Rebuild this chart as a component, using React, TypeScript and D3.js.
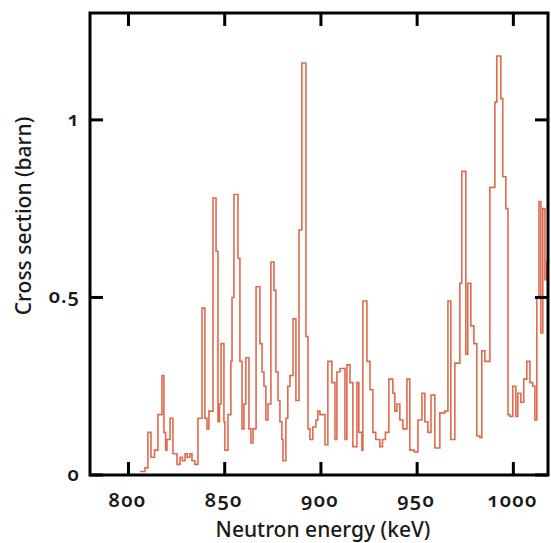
import React from "react";
import * as d3 from "d3";

// Step-function cross section: each value holds from its energy to the next one (keV, barn)
const energies = [
  806.0, 808.6, 810.1, 811.7, 813.5, 815.3, 817.4, 818.4, 819.3, 820.0,
  821.6, 823.1, 825.2, 826.8, 828.0, 829.4, 830.5, 831.9, 833.0, 834.5,
  836.1, 838.2, 839.7, 840.8, 841.8, 843.9, 845.5, 846.5, 847.3, 848.1,
  849.6, 850.1, 851.7, 853.2, 853.8, 854.8, 856.9, 857.9, 859.0, 860.0,
  861.0, 862.6, 863.6, 864.7, 866.3, 868.3, 869.4, 870.4, 871.4, 872.5,
  874.0, 875.6, 876.6, 877.7, 878.7, 879.7, 880.3, 881.8, 882.8, 883.9,
  885.5, 887.0, 888.6, 890.1, 892.2, 893.3, 894.3, 895.8, 897.4, 898.4,
  899.5, 902.1, 903.6, 905.7, 907.3, 908.3, 909.9, 912.5, 913.5, 915.1,
  916.6, 918.7, 919.7, 921.3, 921.8, 923.9, 925.5, 927.0, 928.5, 930.6,
  932.0, 933.5, 935.3, 937.4, 938.4, 939.5, 941.0, 942.6, 944.7, 946.2,
  948.5, 950.4, 952.5, 954.0, 955.6, 957.2, 959.2, 961.8, 964.4, 966.0,
  967.5, 969.6, 972.2, 973.2, 975.3, 976.3, 977.9, 979.5, 981.0, 982.6,
  983.6, 985.2, 987.8, 990.4, 991.4, 993.5, 994.5, 996.1, 997.2, 998.2,
  999.7, 1001.3, 1002.3, 1003.9, 1005.4, 1007.0, 1008.6, 1010.1, 1011.2, 1012.2,
  1013.3, 1014.3, 1015.3, 1016.4, 1017.4,
];
const crossSection = [
  0.01, 0.02, 0.12, 0.05, 0.07, 0.17, 0.28, 0.12, 0.07, 0.10,
  0.16, 0.06, 0.03, 0.05, 0.04, 0.06, 0.05, 0.06, 0.04, 0.03,
  0.16, 0.47, 0.16, 0.13, 0.18, 0.78, 0.63, 0.15, 0.20, 0.37,
  0.15, 0.07, 0.17, 0.32, 0.50, 0.79, 0.61, 0.32, 0.13, 0.20,
  0.33, 0.13, 0.09, 0.13, 0.53, 0.37, 0.29, 0.25, 0.155, 0.20,
  0.60, 0.52, 0.29, 0.21, 0.15, 0.10, 0.04, 0.16, 0.25, 0.28,
  0.44, 0.21, 0.69, 1.16, 0.39, 0.13, 0.10, 0.135, 0.155, 0.18,
  0.17, 0.085, 0.32, 0.26, 0.10, 0.29, 0.30, 0.10, 0.31, 0.26,
  0.08, 0.26, 0.12, 0.07, 0.49, 0.32, 0.24, 0.12, 0.10, 0.08,
  0.10, 0.12, 0.27, 0.23, 0.18, 0.20, 0.155, 0.13, 0.27, 0.07,
  0.065, 0.155, 0.23, 0.15, 0.12, 0.225, 0.076, 0.175, 0.18, 0.49,
  0.10, 0.315, 0.54, 0.855, 0.34, 0.54, 0.42, 0.37, 0.11, 0.105,
  0.35, 0.32, 0.81, 1.05, 1.18, 1.06, 0.84, 0.75, 0.17, 0.165,
  0.25, 0.165, 0.23, 0.205, 0.27, 0.32, 0.26, 0.25, 0.155, 0.50,
  0.77, 0.40, 0.75, 0.55, 0.60,
];

const xTicks = [800, 850, 900, 950, 1000];
const yTicks = [0, 0.5, 1];
const yTickLabels = ["0", "0.5", "1"];
const xDomain = [780, 1018];
const yDomain = [0, 1.301];

const W = 551;
const H = 543;
const left = 90;
const right = 548;
const top = 13;
const bottom = 475;
const FONT = "'Noto Sans', 'Open Sans', sans-serif";
const LINE = "#e06a4e";
const TEXT = "#1a1a1a";

export default function App() {
  const x = d3.scaleLinear().domain(xDomain).range([left, right]);
  const y = d3.scaleLinear().domain(yDomain).range([bottom, top]);

  const pts: [number, number][] = energies.map((e, i) => [e, crossSection[i]]);
  pts.push([xDomain[1], crossSection[crossSection.length - 1]]);
  const path = d3
    .line<[number, number]>()
    .x((d) => x(d[0]))
    .y((d) => y(d[1]))
    .curve(d3.curveStepAfter)(pts) as string;

  const tickLen = 13;
  const tickW = 3;

  return (
    <svg
      width={W}
      height={H}
      style={{ position: "absolute", left: 0, top: 0, background: "#fff" }}
    >
      <defs>
        <clipPath id="plot">
          <rect x={left} y={top} width={right - left} height={bottom - top} />
        </clipPath>
      </defs>
      <rect x={0} y={0} width={W} height={H} fill="#fff" />
      <path
        d={path}
        fill="none"
        stroke={LINE}
        strokeWidth={1.6}
        clipPath="url(#plot)"
      />
      {/* frame */}
      <rect
        x={left}
        y={top}
        width={right - left}
        height={bottom - top}
        fill="none"
        stroke="#000"
        strokeWidth={3}
      />
      {xTicks.map((t) => (
        <g key={"xt" + t}>
          <line x1={x(t)} x2={x(t)} y1={bottom} y2={bottom - tickLen} stroke="#000" strokeWidth={tickW} />
          <line x1={x(t)} x2={x(t)} y1={top} y2={top + tickLen} stroke="#000" strokeWidth={tickW} />
          <text
            x={x(t) - 1}
            y={507}
            textAnchor="middle"
            fontFamily={FONT}
            fontSize={20}
            fontWeight={600}
            letterSpacing={1.2}
            style={{ fontVariantNumeric: "oldstyle-nums" }}
            fill={TEXT}
          >
            {t}
          </text>
        </g>
      ))}
      {yTicks.map((t, i) => (
        <g key={"yt" + t}>
          <line x1={left} x2={left + tickLen} y1={y(t)} y2={y(t)} stroke="#000" strokeWidth={tickW} />
          <line x1={right} x2={right - tickLen} y1={y(t)} y2={y(t)} stroke="#000" strokeWidth={tickW} />
          <text
            x={80}
            y={y(t) + 6}
            textAnchor="end"
            fontFamily={FONT}
            fontSize={20}
            fontWeight={600}
            letterSpacing={1}
            style={{ fontVariantNumeric: "oldstyle-nums" }}
            fill={TEXT}
          >
            {yTickLabels[i]}
          </text>
        </g>
      ))}
      <text
        x={323}
        y={537}
        textAnchor="middle"
        fontFamily={FONT}
        fontSize={21}
        fontWeight={500}
        fill={TEXT}
      >
        Neutron energy (keV)
      </text>
      <text
        transform="translate(31,216) rotate(-90)"
        textAnchor="middle"
        fontFamily={FONT}
        fontSize={21}
        fontWeight={500}
        fill={TEXT}
      >
        Cross section (barn)
      </text>
    </svg>
  );
}
